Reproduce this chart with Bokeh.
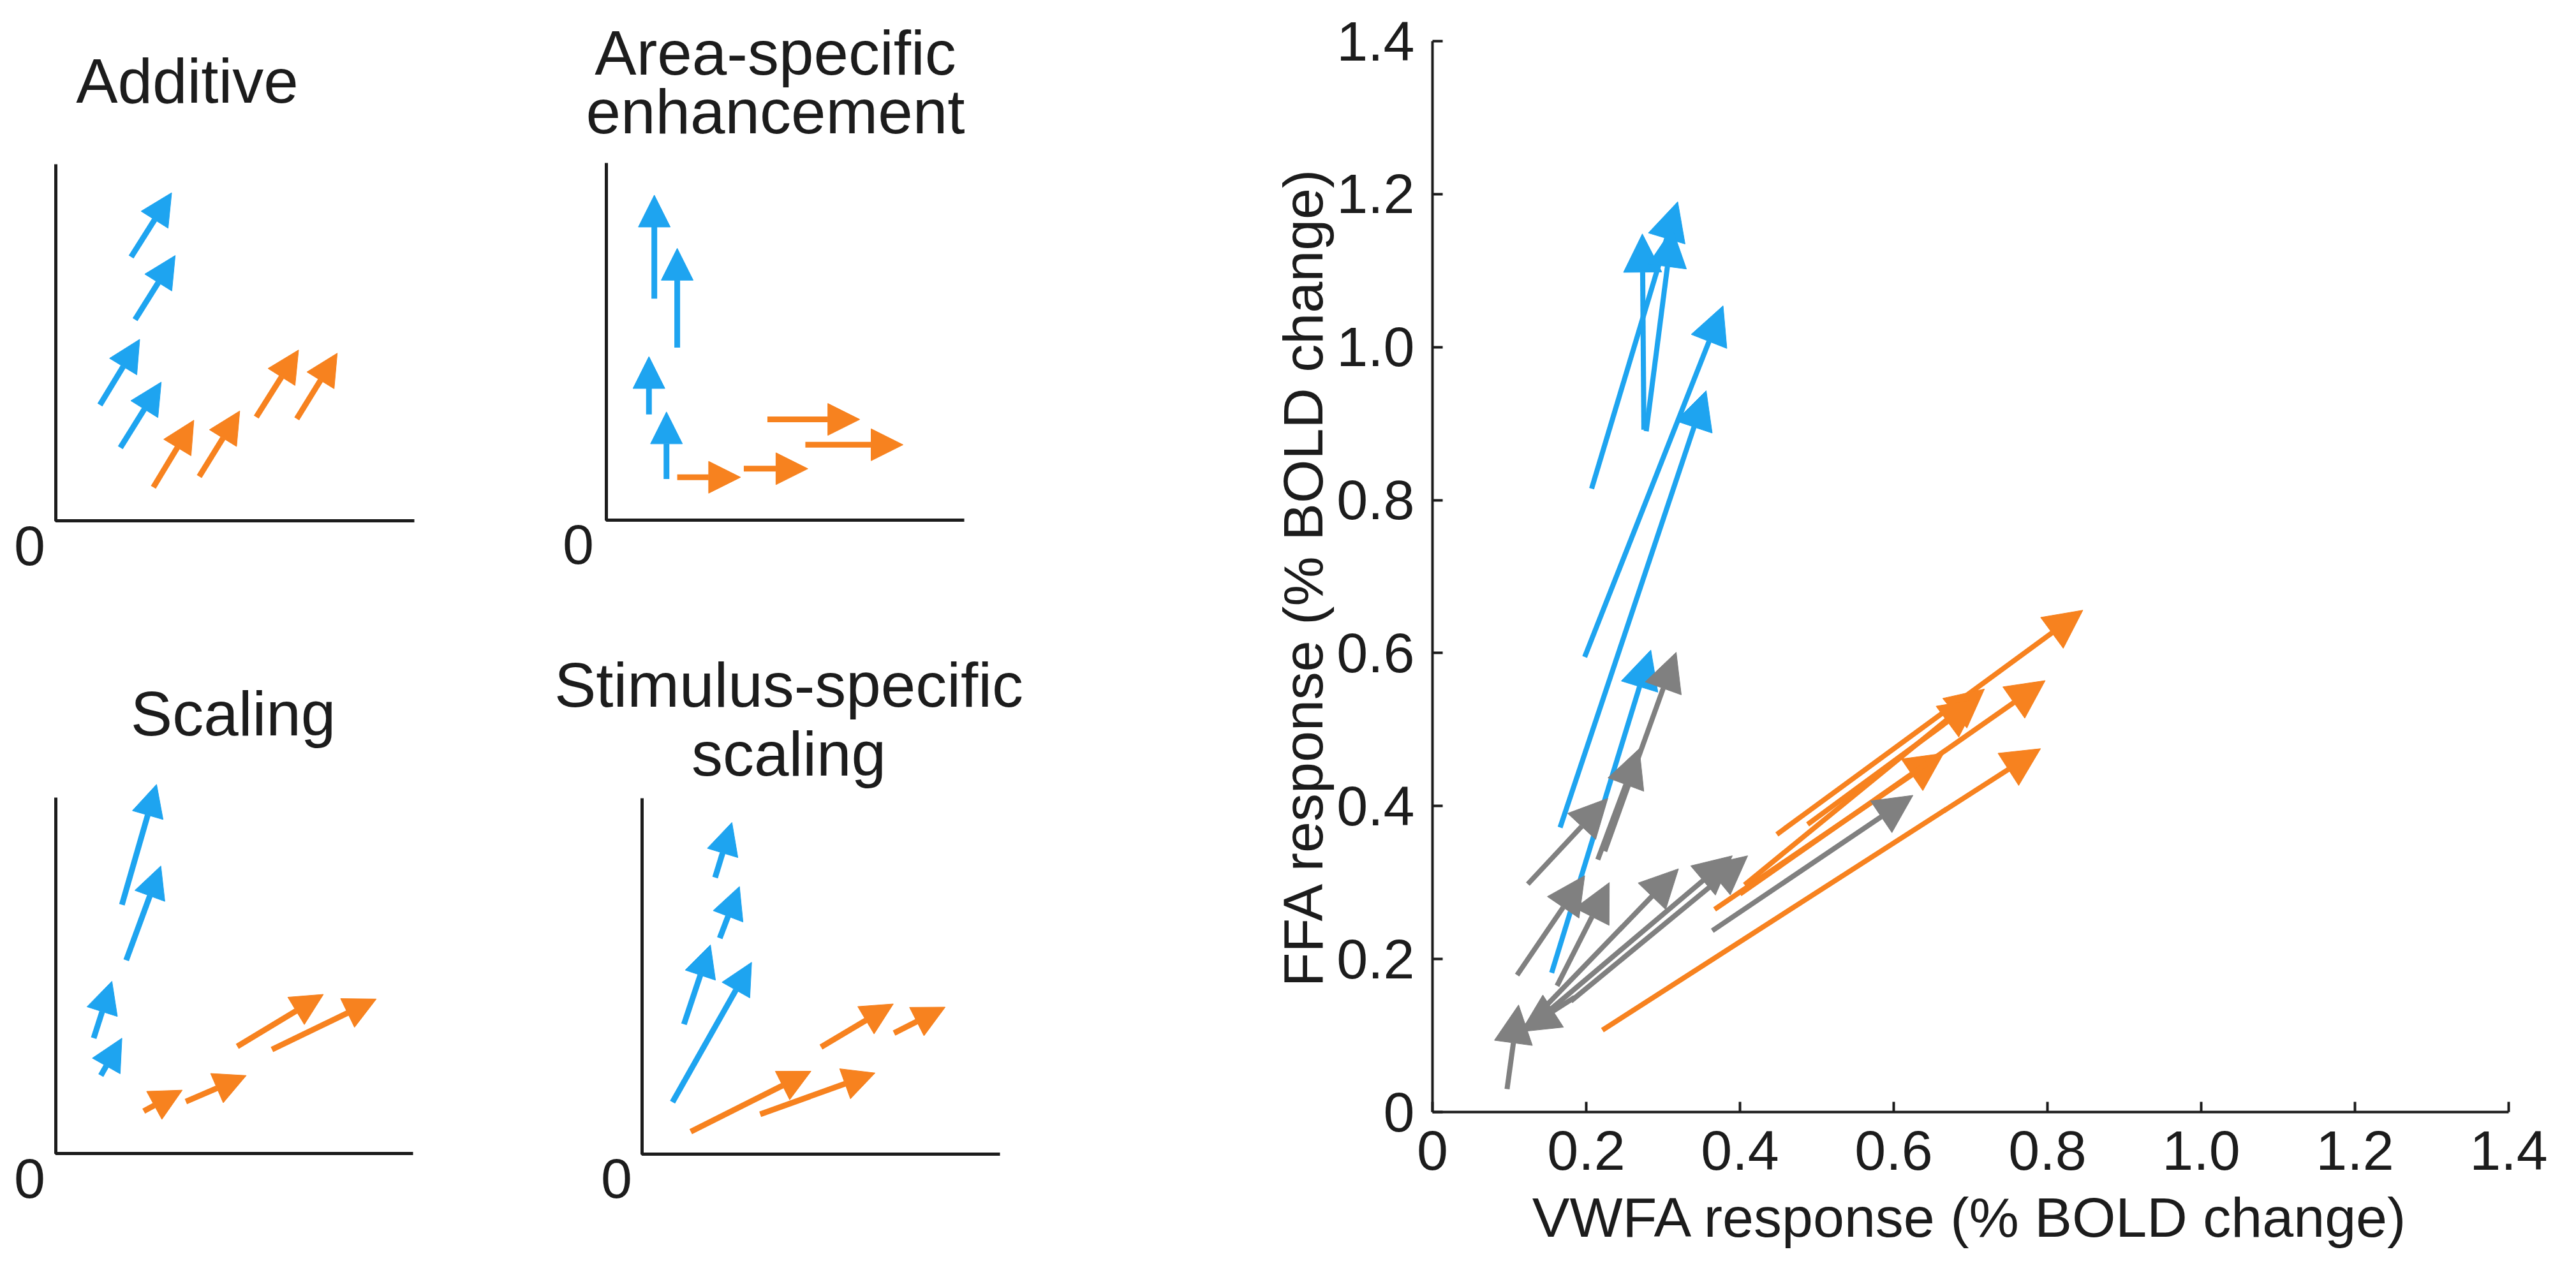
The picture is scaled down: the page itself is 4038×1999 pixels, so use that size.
from bokeh.plotting import figure
from bokeh.layouts import row, column
from bokeh.models import (Arrow, NormalHead, ColumnDataSource, FixedTicker,
                          CustomJSTickFormatter, Range1d)
from bokeh.core.properties import value
from bokeh.embed import file_html
from bokeh.resources import INLINE

# ---------------- data ----------------
tick_values = [0, 0.2, 0.4, 0.6, 0.8, 1.0, 1.2, 1.4]
tick_labels = ["0", "0.2", "0.4", "0.6", "0.8", "1.0", "1.2", "1.4"]

# main chart arrows: (VWFA start, FFA start, VWFA end, FFA end)
main_blue = [
    (0.207, 0.815, 0.319, 1.190),
    (0.275, 0.892, 0.273, 1.148),
    (0.278, 0.890, 0.312, 1.155),
    (0.198, 0.595, 0.378, 1.054),
    (0.166, 0.372, 0.356, 0.943),
    (0.155, 0.182, 0.284, 0.604),
]
main_orange = [
    (0.448, 0.363, 0.846, 0.656),
    (0.367, 0.265, 0.665, 0.469),
    (0.406, 0.297, 0.718, 0.553),
    (0.400, 0.285, 0.797, 0.564),
    (0.488, 0.376, 0.710, 0.540),
    (0.221, 0.107, 0.791, 0.475),
]
main_gray = [
    (0.224, 0.341, 0.317, 0.601),
    (0.215, 0.330, 0.269, 0.475),
    (0.124, 0.298, 0.228, 0.410),
    (0.110, 0.179, 0.198, 0.309),
    (0.162, 0.165, 0.230, 0.300),
    (0.097, 0.030, 0.112, 0.140),
    (0.185, 0.150, 0.115, 0.105),
    (0.118, 0.108, 0.320, 0.318),
    (0.125, 0.110, 0.390, 0.335),
    (0.180, 0.145, 0.410, 0.335),
    (0.364, 0.237, 0.625, 0.414),
]

# schematic panels (axis-relative units)
additive_blue = [
    (0.210, 0.740, 0.323, 0.920),
    (0.221, 0.564, 0.333, 0.744),
    (0.123, 0.325, 0.234, 0.509),
    (0.180, 0.205, 0.294, 0.389),
]
additive_orange = [
    (0.272, 0.094, 0.385, 0.282),
    (0.400, 0.124, 0.513, 0.308),
    (0.559, 0.291, 0.677, 0.479),
    (0.672, 0.286, 0.785, 0.470),
]
area_blue = [
    (0.134, 0.620, 0.134, 0.910),
    (0.198, 0.483, 0.198, 0.761),
    (0.119, 0.296, 0.119, 0.458),
    (0.168, 0.115, 0.168, 0.303),
]
area_orange = [
    (0.198, 0.120, 0.375, 0.120),
    (0.384, 0.144, 0.563, 0.144),
    (0.450, 0.282, 0.708, 0.282),
    (0.556, 0.211, 0.829, 0.211),
]
scaling_blue = [
    (0.185, 0.699, 0.282, 1.037),
    (0.197, 0.543, 0.294, 0.808),
    (0.106, 0.324, 0.157, 0.484),
    (0.126, 0.219, 0.185, 0.324),
]
scaling_orange = [
    (0.246, 0.119, 0.354, 0.178),
    (0.364, 0.146, 0.533, 0.219),
    (0.508, 0.301, 0.749, 0.447),
    (0.605, 0.292, 0.897, 0.434),
]
stim_blue = [
    (0.204, 0.777, 0.251, 0.932),
    (0.217, 0.607, 0.272, 0.752),
    (0.117, 0.365, 0.191, 0.588),
    (0.085, 0.146, 0.306, 0.539),
]
stim_orange = [
    (0.136, 0.063, 0.472, 0.233),
    (0.330, 0.112, 0.651, 0.228),
    (0.500, 0.301, 0.702, 0.422),
    (0.704, 0.340, 0.847, 0.413),
]

# ---------------- style ----------------
BLUE = "#1ea4f0"
ORANGE = "#f7821f"
GRAY = "#808080"
INK = "#1c1c1c"
FONT = "Liberation Sans"


def add_arrows(p, rows, color, lw, head):
    src = ColumnDataSource(dict(
        x0=[r[0] for r in rows], y0=[r[1] for r in rows],
        x1=[r[2] for r in rows], y1=[r[3] for r in rows]))
    p.add_layout(Arrow(source=src, x_start="x0", y_start="y0",
                       x_end="x1", y_end="y1",
                       line_color=color, line_width=lw,
                       end=NormalHead(size=head, fill_color=color,
                                      line_color=color, line_width=1)))


def panel(fig_l, fig_t, fig_w, fig_h, ax_l, ax_b, ax_r, ax_t,
          titles, zero_xy, blue, orange):
    sx = ax_r - ax_l
    sy = ax_b - ax_t
    xr = Range1d((fig_l - ax_l) / sx, (fig_l + fig_w - ax_l) / sx)
    yr = Range1d((ax_b - (fig_t + fig_h)) / sy, (ax_b - fig_t) / sy)
    p = figure(width=fig_w, height=fig_h, x_range=xr, y_range=yr,
               output_backend="svg", toolbar_location=None,
               x_axis_location=None, y_axis_location=None,
               min_border=0)
    p.grid.visible = False
    p.outline_line_color = None
    p.line([0, 0, 1], [1, 0, 0], line_color=INK, line_width=5)

    def tx(x):
        return (x - ax_l) / sx

    def ty(y):
        return (ax_b - y) / sy

    p.text(x=[tx(t[1]) for t in titles], y=[ty(t[2]) for t in titles],
           text=[t[0] for t in titles], text_font=value(FONT),
           text_font_size=value("98px"), text_align="center",
           text_baseline="alphabetic", text_color=INK)
    p.text(x=[tx(zero_xy[0])], y=[ty(zero_xy[1])], text=["0"],
           text_font=value(FONT), text_font_size=value("88px"),
           text_align="center", text_baseline="middle", text_color=INK)
    add_arrows(p, blue, BLUE, 9, 50)
    add_arrows(p, orange, ORANGE, 9, 50)
    return p


p1 = panel(8, 8, 822, 992, 95, 824, 657, 265,
           [("Additive", 301, 134)], (54, 863), additive_blue, additive_orange)
p2 = panel(830, 8, 878, 992, 958, 823, 1519, 263,
           [("Area-specific", 1223, 90), ("enhancement", 1223, 182)],
           (914, 861), area_blue, area_orange)
p3 = panel(8, 1000, 822, 991, 95, 1816, 655, 1258,
           [("Scaling", 373, 1126)], (54, 1855), scaling_blue, scaling_orange)
p4 = panel(830, 1000, 878, 991, 1014, 1817, 1575, 1259,
           [("Stimulus-specific", 1244, 1081), ("scaling", 1244, 1189)],
           (974, 1855), stim_blue, stim_orange)

# ---------------- main chart ----------------
pm = figure(width=2322, height=1983, x_range=Range1d(0, 1.4),
            y_range=Range1d(0, 1.4), output_backend="svg",
            toolbar_location=None, min_border_left=545, min_border_right=90,
            min_border_top=64, min_border_bottom=240)
pm.grid.visible = False
pm.outline_line_color = None
fmt = CustomJSTickFormatter(args=dict(vals=tick_values, labs=tick_labels), code="""
    const i = vals.findIndex(v => Math.abs(v - tick) < 1e-9);
    return i >= 0 ? labs[i] : '';
""")
for ax in (pm.xaxis[0], pm.yaxis[0]):
    ax.ticker = FixedTicker(ticks=tick_values)
    ax.formatter = fmt
    ax.major_tick_in = 16
    ax.major_tick_out = 0
    ax.minor_tick_line_color = None
    ax.axis_line_width = 4
    ax.axis_line_color = INK
    ax.major_tick_line_width = 4
    ax.major_tick_line_color = INK
    ax.major_label_text_font = FONT
    ax.major_label_text_font_size = "88px"
    ax.major_label_text_color = INK
    ax.axis_label_text_font = FONT
    ax.axis_label_text_font_size = "88px"
    ax.axis_label_text_font_style = "normal"
    ax.axis_label_text_color = INK
pm.xaxis.axis_label = "VWFA response (% BOLD change)"
pm.yaxis.axis_label = "FFA response (% BOLD change)"
pm.xaxis.major_label_standoff = 30
pm.yaxis.major_label_standoff = 28
pm.xaxis.axis_label_standoff = 22
pm.yaxis.axis_label_standoff = 0

add_arrows(pm, main_blue, BLUE, 8, 60)
add_arrows(pm, main_orange, ORANGE, 8, 60)
add_arrows(pm, main_gray, GRAY, 8, 60)

layout = row(column(row(p1, p2), row(p3, p4)), pm)
open("out.html", "w").write(file_html(layout, INLINE))
